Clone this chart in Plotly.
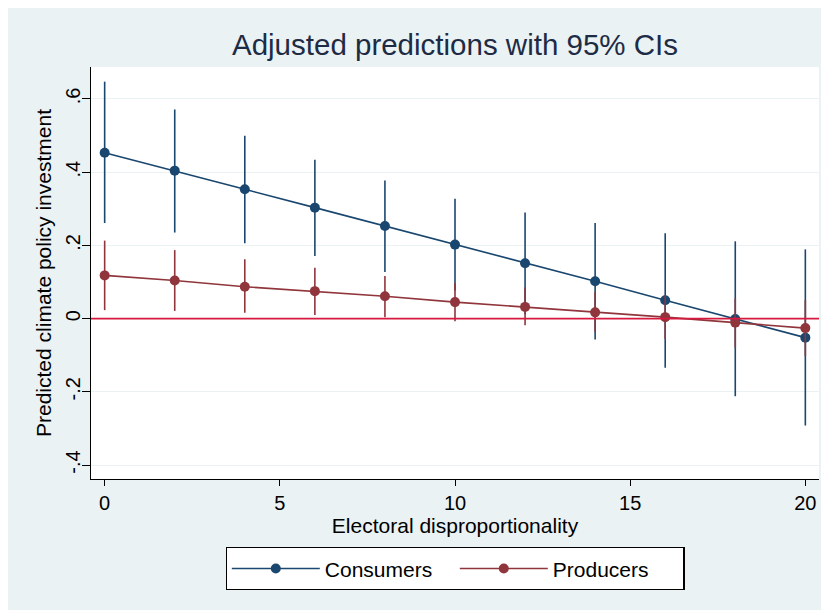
import plotly.graph_objects as go

x_vals = [0, 2, 4, 6, 8, 10, 12, 14, 16, 18, 20]

consumers = [0.453, 0.404, 0.353, 0.303, 0.253, 0.202, 0.151, 0.102, 0.050, -0.001, -0.052]
consumers_lo = [0.261, 0.235, 0.206, 0.171, 0.127, 0.077, 0.012, -0.057, -0.134, -0.212, -0.292]
consumers_hi = [0.647, 0.571, 0.499, 0.434, 0.377, 0.327, 0.290, 0.261, 0.233, 0.211, 0.189]

producers = [0.118, 0.104, 0.087, 0.075, 0.061, 0.045, 0.032, 0.017, 0.004, -0.011, -0.026]
producers_lo = [0.023, 0.021, 0.016, 0.010, 0.004, -0.007, -0.018, -0.036, -0.056, -0.079, -0.102]
producers_hi = [0.213, 0.187, 0.162, 0.139, 0.116, 0.097, 0.085, 0.073, 0.064, 0.055, 0.050]

y_tickvals = [-0.4, -0.2, 0, 0.2, 0.4, 0.6]
y_ticktext = ["-.4", "-.2", "0", ".2", ".4", ".6"]
x_tickvals = [0, 5, 10, 15, 20]

BLUE = "#1a476f"
MAROON = "#90353b"
ZERO = "#d7193f"
BG = "#eaf2f3"
FONT = "Liberation Sans, Arial, sans-serif"


def series(name, y, lo, hi, color):
    return go.Scatter(
        x=x_vals, y=y, name=name, mode="lines+markers",
        line=dict(color=color, width=1.6),
        marker=dict(color=color, size=10),
        error_y=dict(
            type="data", symmetric=False,
            array=[h - v for h, v in zip(hi, y)],
            arrayminus=[v - l for v, l in zip(y, lo)],
            color=color, thickness=1.6, width=0,
        ),
    )


fig = go.Figure()
fig.add_trace(series("Consumers", consumers, consumers_lo, consumers_hi, BLUE))
fig.add_trace(series("Producers", producers, producers_lo, producers_hi, MAROON))

# zero reference line
fig.add_shape(type="line", xref="x domain", x0=0, x1=1, yref="y", y0=0, y1=0,
              line=dict(color=ZERO, width=1.6), layer="above")

fig.update_layout(
    width=829, height=610,
    margin=dict(l=83, r=18, t=59, b=139, autoexpand=False),
    paper_bgcolor=BG, plot_bgcolor="white",
    font=dict(family=FONT, size=20, color="#000000"),
    title=dict(text="Adjusted predictions with 95% CIs",
               font=dict(family=FONT, size=29.5, color="#1e2b45"),
               x=0.5, xref="paper", xanchor="center",
               y=1 - 37 / 610, yref="container", yanchor="middle"),
    xaxis=dict(range=[-0.39, 20.39], tickvals=x_tickvals, automargin=False,
               showgrid=False, zeroline=False,
               showline=True, linecolor="black", linewidth=1.3,
               ticks="outside", ticklen=6, tickcolor="black", tickwidth=1.3,
               tickfont=dict(size=20),
               title=dict(text="Electoral disproportionality", font=dict(size=21), standoff=2)),
    yaxis=dict(range=[-0.438, 0.687], tickvals=y_tickvals, ticktext=y_ticktext,
               tickangle=-90, automargin=False, ticklabelstandoff=-6,
               showgrid=True, gridcolor=BG, gridwidth=1.2, zeroline=False,
               showline=True, linecolor="black", linewidth=1.3,
               ticks="outside", ticklen=8, tickcolor="black", tickwidth=1.3,
               tickfont=dict(size=20),
               title=dict(text="Predicted climate policy investment", font=dict(size=21), standoff=4)),
    legend=dict(orientation="h", x=0.5, xanchor="center", xref="paper",
                y=(471 - 539) / 412, yanchor="top", yref="paper",
                bgcolor="white", bordercolor="black", borderwidth=1.3,
                font=dict(size=21), itemwidth=88, entrywidth=125),
    showlegend=True,
)

fig.write_html("out.html")
